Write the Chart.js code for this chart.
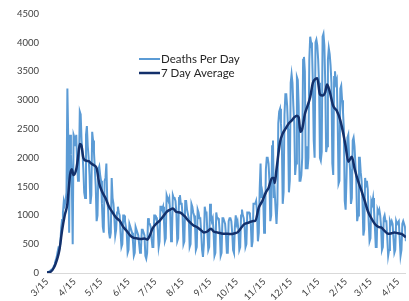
<!DOCTYPE html>
<html>
<head>
<meta charset="utf-8">
<script src="https://cdn.jsdelivr.net/npm/chart.js@4.4.1/dist/chart.umd.min.js"></script>
<style>
  html, body { margin: 0; padding: 0; background: #fff; overflow: hidden; }
  #wrap { width: 409px; height: 301px; }
</style>
</head>
<body>
<div id="wrap"><canvas id="chart" width="409" height="301"></canvas></div>
<script>
// day 0 = 3/15/2020, one row per week (Sun..Sat)
const dailyDeaths = [
  8, 12, 22, 28, 45, 58, 55,
  90, 130, 180, 230, 280, 370, 440,
  430, 500, 780, 920, 1050, 1250, 1180,
  1250, 1400, 3200, 2300, 700, 2400, 2050,
  1600, 500, 2400, 2350, 2200, 2400, 1900,
  1600, 1800, 2800, 2750, 2300, 2100, 1800,
  1400, 1300, 2400, 2550, 2200, 2000, 1700,
  1200, 1350, 2450, 2300, 2100, 1800, 1500,
  900, 1000, 1800, 1850, 1700, 1600, 1200,
  800, 700, 1600, 1650, 1900, 1250, 1100,
  700, 600, 700, 1650, 1300, 1200, 950,
  650, 750, 1050, 1150, 1050, 1000, 700,
  450, 500, 1000, 1000, 900, 800, 700,
  350, 400, 850, 800, 750, 700, 550,
  300, 350, 800, 750, 700, 650, 500,
  350, 400, 750, 750, 700, 650, 300,
  250, 350, 950, 850, 850, 800, 600,
  450, 450, 1000, 1000, 950, 950, 750,
  450, 550, 1150, 1150, 1100, 1150, 900,
  550, 600, 1350, 1300, 1250, 1300, 1050,
  550, 650, 1350, 1300, 1300, 1250, 1050,
  550, 600, 1300, 1350, 1200, 1200, 1000,
  500, 550, 1250, 1250, 1100, 1100, 950,
  450, 500, 1200, 1150, 1050, 1000, 850,
  400, 450, 1100, 1050, 950, 950, 700,
  400, 280, 500, 1150, 1050, 1050, 700,
  400, 450, 1200, 1000, 900, 950, 700,
  300, 350, 1050, 950, 950, 900, 700,
  300, 350, 950, 950, 900, 850, 650,
  350, 350, 900, 950, 950, 900, 700,
  400, 350, 800, 1000, 850, 900, 750,
  400, 450, 1000, 1100, 1000, 950, 800,
  450, 500, 1050, 1050, 1050, 1000, 850,
  450, 550, 1200, 1200, 1200, 1250, 1050,
  550, 700, 1450, 1900, 1300, 1400, 1300,
  700, 800, 1800, 2000, 2000, 1900, 1600,
  900, 1000, 2200, 2300, 1300, 1400, 1100,
  850, 1200, 2600, 2800, 2850, 2600, 2300,
  1200, 1400, 2750, 3100, 3100, 2900, 2500,
  1400, 1600, 3300, 3450, 3300, 2900, 2600,
  1700, 1900, 3400, 3350, 2900, 1600, 1600,
  1700, 2000, 3700, 3750, 3500, 1800, 2200,
  1800, 2000, 3700, 4100, 4000, 3900, 3300,
  2300, 2000, 4000, 4050, 3950, 3700, 3300,
  2000, 1950, 2100, 4100, 4150, 3950, 3300,
  2100, 2200, 3700, 3900, 3800, 3600, 3300,
  1900, 1700, 3400, 3500, 3300, 3350, 2700,
  1550, 1600, 3200, 3250, 3000, 2800, 2500,
  1250, 1100, 1650, 2350, 2400, 2000, 1800,
  1200, 1300, 2300, 2350, 2200, 1900, 1600,
  900, 1000, 2000, 2000, 1750, 1600, 1250,
  650, 750, 1650, 1500, 1600, 1450, 900,
  550, 600, 1250, 1200, 1300, 1100, 800,
  450, 450, 1100, 1050, 1100, 1000, 800,
  400, 450, 950, 1000, 900, 900, 600,
  300, 400, 900, 850, 900, 850, 600,
  350, 400, 900, 850, 850, 900, 600,
  300, 400, 850, 900, 850, 800, 550
];

// 7 day average (day index, value)
const avgDay = [0, 4, 8, 11, 14, 17, 20, 23, 26, 28, 30, 33, 35, 37, 39, 41, 44, 47, 50, 53, 56, 59, 62, 66, 70, 74, 78, 82, 86, 90, 94, 98, 102, 106, 110, 113, 116, 119, 123, 127, 131, 135, 139, 142, 146, 150, 155, 160, 165, 170, 174, 177, 181, 185, 188, 192, 196, 200, 204, 208, 212, 215, 218, 222, 228, 232, 235, 239, 243, 247, 250, 254, 256, 257, 259, 263, 266, 269, 273, 276, 279, 282, 284, 286, 288, 291, 294, 297, 300, 303, 305, 308, 311, 314, 316, 319, 323, 327, 331, 334, 337, 340, 344, 347, 351, 355, 359, 362, 366, 370, 374, 377, 381, 385, 389, 392, 396, 400, 405];
const avgValue = [10, 20, 100, 220, 400, 735, 1000, 1200, 1700, 1800, 1700, 1800, 2000, 2240, 2200, 2000, 1950, 1940, 1900, 1870, 1820, 1550, 1420, 1300, 1150, 1050, 960, 906, 800, 730, 650, 610, 600, 590, 600, 580, 650, 770, 850, 906, 980, 1060, 1100, 1120, 1060, 1050, 990, 900, 830, 790, 740, 705, 720, 770, 720, 705, 690, 680, 680, 675, 690, 705, 760, 840, 877, 900, 906, 1134, 1250, 1400, 1476, 1650, 1650, 1560, 1800, 2274, 2420, 2500, 2600, 2645, 2700, 2730, 2700, 2450, 2500, 2758, 2900, 3050, 3300, 3370, 3380, 3100, 3080, 3140, 3270, 3150, 2900, 2815, 2650, 2445, 2200, 1932, 2018, 1818, 1600, 1420, 1230, 1077, 950, 850, 800, 790, 730, 680, 690, 705, 690, 680, 620];

const tickDays = [0, 31, 61, 92, 122, 153, 184, 214, 245, 275, 306, 337, 365, 396];
const tickLabels = ["3/15", "4/15", "5/15", "6/15", "7/15", "8/15", "9/15", "10/15", "11/15", "12/15", "1/15", "2/15", "3/15", "4/15"];

const seriesNames = ["Deaths Per Day", "7 Day Average"];

// legend drawn inside the plot, like the original
const insideLegend = {
  id: "insideLegend",
  afterDraw(chart) {
    const ctx = chart.ctx;
    ctx.save();
    ctx.font = "11.5px Lato";
    ctx.textBaseline = "middle";
    chart.data.datasets.forEach((ds, i) => {
      const y = 59 + i * 14;
      ctx.strokeStyle = ds.borderColor;
      ctx.lineWidth = ds.borderWidth;
      ctx.beginPath();
      ctx.moveTo(139, y);
      ctx.lineTo(160, y);
      ctx.stroke();
      ctx.fillStyle = "#262626";
      ctx.fillText(ds.label, 161, y);
    });
    ctx.restore();
  },
};

new Chart(document.getElementById("chart"), {
  type: "line",
  data: {
    datasets: [
      {
        label: seriesNames[0],
        data: dailyDeaths.map((v, i) => ({ x: i, y: v })),
        borderColor: "#5b9bd5",
        borderWidth: 2,
        pointRadius: 0,
        tension: 0,
        order: 2,
      },
      {
        label: seriesNames[1],
        data: avgDay.map((d, i) => ({ x: d, y: avgValue[i] })),
        borderColor: "#13306b",
        borderWidth: 2.5,
        pointRadius: 0,
        cubicInterpolationMode: "monotone",
        order: 1,
      },
    ],
  },
  options: {
    responsive: false,
    animation: false,
    devicePixelRatio: 1,
    layout: { padding: { top: 11, right: 1, left: 0, bottom: 0 } },
    plugins: { legend: { display: false }, tooltip: { enabled: false } },
    scales: {
      x: {
        type: "linear",
        min: 0,
        max: 405,
        afterBuildTicks: (scale) => {
          scale.ticks = tickDays.map((v) => ({ value: v }));
        },
        afterFit: (scale) => {
          scale.height = 28;
        },
        grid: { display: false, drawTicks: false },
        border: { display: true, color: "#d9d9d9", width: 1 },
        ticks: {
          autoSkip: false,
          minRotation: 45,
          maxRotation: 45,
          padding: 3,
          color: "#404040",
          font: { family: "Lato", size: 9.5 },
          callback: (v) => tickLabels[tickDays.indexOf(v)],
        },
      },
      y: {
        min: 0,
        max: 4500,
        afterFit: (scale) => {
          scale.width = 47;
        },
        grid: { display: false, drawTicks: false },
        border: { display: false },
        ticks: {
          stepSize: 500,
          padding: 8,
          color: "#404040",
          font: { family: "Lato", size: 9.5 },
          callback: (v) => String(v),
        },
      },
    },
  },
  plugins: [insideLegend],
});
</script>
</body>
</html>
